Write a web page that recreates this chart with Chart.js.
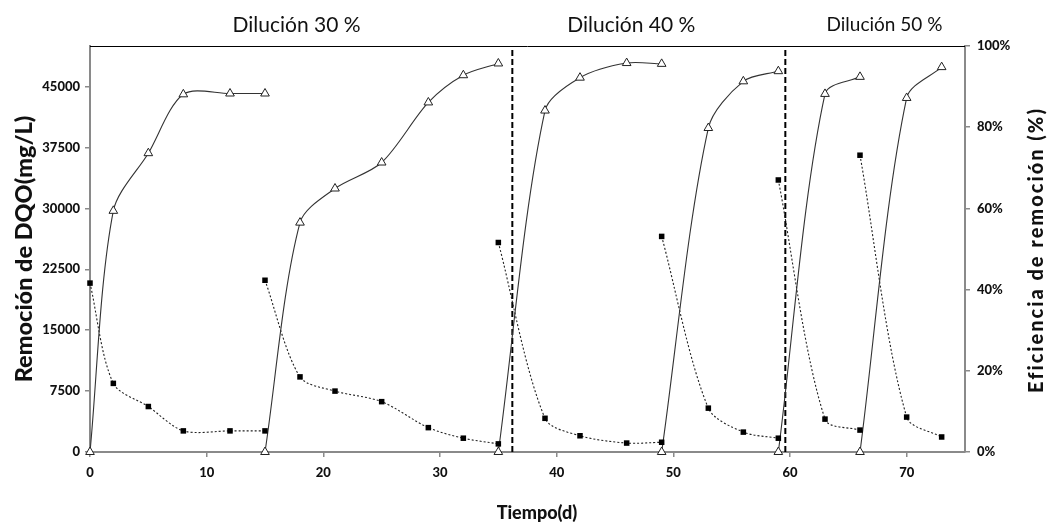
<!DOCTYPE html>
<html>
<head>
<meta charset="utf-8">
<script src="https://cdn.jsdelivr.net/npm/chart.js@4/dist/chart.umd.min.js"></script>
<style>
  html, body { margin: 0; padding: 0; background: #fff; }
  #wrap { width: 1048px; height: 525px; }
</style>
</head>
<body>
<div id="wrap"><canvas id="c" width="1048" height="525"></canvas></div>
<script>
// runs: days, efficiency (%), DQO (mg/L)
const run1Days = [0, 2, 5, 8, 12, 15];
const run1Eff  = [0, 59.4, 73.6, 88.1, 88.3, 88.3];
const run1Dqo  = [20800, 8450, 5600, 2600, 2600, 2600];

const run2Days = [15, 18, 21, 25, 29, 32, 35];
const run2Eff  = [0, 56.5, 64.9, 71.3, 86.1, 92.8, 95.7];
const run2Dqo  = [21150, 9250, 7500, 6200, 3000, 1700, 1000];

const run3Days = [35, 39, 42, 46, 49];
const run3Eff  = [0, 84.1, 92.2, 95.8, 95.6];
const run3Dqo  = [25800, 4150, 2000, 1100, 1200];

const run4Days = [49, 53, 56, 59];
const run4Eff  = [0, 79.8, 91.3, 93.8];
const run4Dqo  = [26550, 5400, 2450, 1700];

const run5Days = [59, 63, 66];
const run5Eff  = [0, 88.2, 92.4];
const run5Dqo  = [33500, 4050, 2700];

const run6Days = [66, 70, 73];
const run6Eff  = [0, 87.2, 94.8];
const run6Dqo  = [36550, 4300, 1850];

const dqoTicks = [0, 7500, 15000, 22500, 30000, 37500, 45000];
const effTicks = [0, 20, 40, 60, 80, 100];
const dayTicks = [0, 10, 20, 30, 40, 50, 60, 70];

const separators = [36.2, 59.6];
const phaseLabels = ['Dilución 30 %', 'Dilución 40 %', 'Dilución 50 %'];
const phaseLabelX = [17.7, 46.4, 68.1];

const FONT = 'Lato, "Open Sans", sans-serif';
const BOLD = 900;

const runs = [
  [run1Days, run1Eff, run1Dqo],
  [run2Days, run2Eff, run2Dqo],
  [run3Days, run3Eff, run3Dqo],
  [run4Days, run4Eff, run4Dqo],
  [run5Days, run5Eff, run5Dqo],
  [run6Days, run6Eff, run6Dqo]
];

const datasets = [];
runs.forEach(([d, e, q]) => {
  datasets.push({
    data: d.map((x, i) => ({ x, y: e[i] })),
    yAxisID: 'y1',
    borderColor: '#333',
    borderWidth: 1.1,
    tension: 0.3,
    pointStyle: 'triangle',
    pointRadius: 5,
    pointBackgroundColor: '#fff',
    pointBorderColor: '#222',
    pointBorderWidth: 1,
    clip: false
  });
  datasets.push({
    data: d.map((x, i) => ({ x, y: q[i] })),
    yAxisID: 'y',
    borderColor: '#222',
    borderWidth: 1.1,
    borderDash: [2, 2],
    tension: 0.3,
    pointStyle: 'rect',
    pointRadius: 3.9,
    pointBackgroundColor: '#000',
    pointBorderColor: '#000',
    pointBorderWidth: 0,
    clip: false
  });
});
separators.forEach(x => {
  datasets.push({
    data: [{ x, y: 0 }, { x, y: 50000 }],
    yAxisID: 'y',
    borderColor: '#000',
    borderWidth: 2,
    borderDash: [6, 3],
    pointRadius: 0,
    tension: 0
  });
});

// top frame line, phase titles, x title, right axis title (reads bottom-to-top)
const extras = {
  id: 'extras',
  afterDraw(chart) {
    const { ctx, chartArea: a, scales } = chart;
    ctx.save();
    ctx.strokeStyle = '#000';
    ctx.lineWidth = 1;
    ctx.beginPath();
    ctx.moveTo(a.left, a.top + 0.5);
    ctx.lineTo(a.right, a.top + 0.5);
    ctx.stroke();
    ctx.fillStyle = '#111';
    ctx.textAlign = 'center';
    ctx.textBaseline = 'middle';
    phaseLabels.forEach((t, i) => {
      ctx.font = (i === 2 ? '19px ' : '21px ') + FONT;
      ctx.fillText(t, scales.x.getPixelForValue(phaseLabelX[i]), 25);
    });
    ctx.font = BOLD + ' 18px ' + FONT;
    ctx.fillText('Tiempo(d)', 537, 513);
    ctx.translate(1037, 250);
    ctx.rotate(-Math.PI / 2);
    ctx.font = BOLD + ' 20px ' + FONT;
    ctx.letterSpacing = '2px';
    ctx.fillText('Eficiencia de remoción (%)', 0, 0);
    ctx.restore();
  }
};

const axisGrid = { drawOnChartArea: false, drawTicks: true, tickLength: 5, color: '#8a8a8a', lineWidth: 1.5 };
const axisBorder = { color: '#8a8a8a', width: 2 };
const tickFont = { family: FONT, size: 13, weight: BOLD };

new Chart(document.getElementById('c'), {
  type: 'line',
  data: { datasets },
  plugins: [extras],
  options: {
    responsive: false,
    animation: false,
    layout: { padding: { top: 46, left: 0, right: 0, bottom: 0 } },
    plugins: { legend: { display: false }, tooltip: { enabled: false } },
    scales: {
      x: {
        type: 'linear', min: 0, max: 75,
        afterBuildTicks: s => { s.ticks = dayTicks.map(v => ({ value: v })); },
        afterFit: s => { s.height = 73; },
        ticks: { font: tickFont, color: '#111', padding: 8, maxRotation: 0, callback: v => String(v) },
        grid: axisGrid, border: axisBorder
      },
      y: {
        position: 'left', min: 0, max: 50000,
        afterBuildTicks: s => { s.ticks = dqoTicks.map(v => ({ value: v })); },
        afterFit: s => { s.width = 90; },
        ticks: { font: tickFont, color: '#111', padding: 5, callback: v => String(v) },
        grid: axisGrid, border: axisBorder,
        title: { display: true, text: 'Remoción de DQO(mg/L)', color: '#111',
                 font: { family: FONT, size: 23.5, weight: BOLD }, padding: { top: 10 } }
      },
      y1: {
        position: 'right', min: 0, max: 100,
        afterBuildTicks: s => { s.ticks = effTicks.map(v => ({ value: v })); },
        afterFit: s => { s.width = 83; },
        ticks: { font: tickFont, color: '#111', padding: 7, callback: v => v + '%' },
        grid: axisGrid, border: axisBorder
      }
    }
  }
});
</script>
</body>
</html>
